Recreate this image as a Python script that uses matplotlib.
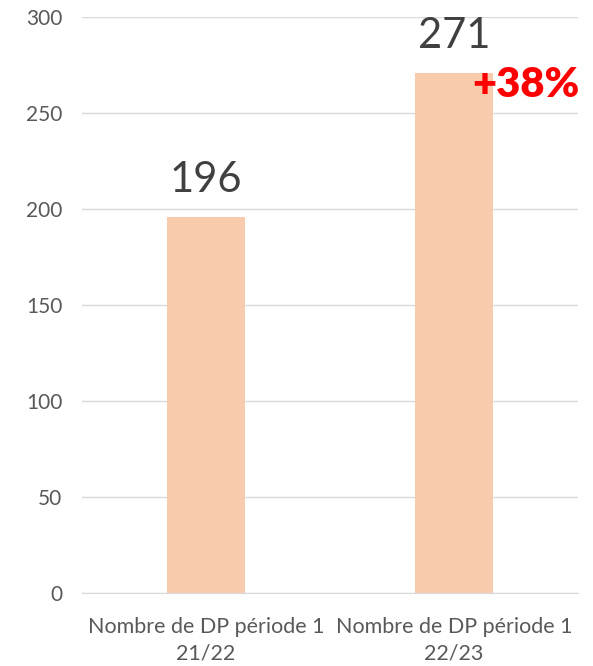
import matplotlib.pyplot as plt

categories = ["Nombre de DP période 1\n21/22", "Nombre de DP période 1\n22/23"]
values = [196, 271]
growth_label = "+38%"

plt.rcParams['font.family'] = ['Lato', 'DejaVu Sans']

fig = plt.figure(figsize=(5.93, 6.66), dpi=100)
ax = fig.add_axes([0.138, 0.1096, 0.837, 0.865])

x = list(range(len(categories)))
bars = ax.bar(x, values, width=0.315, color="#F8CBAD", zorder=2)

ax.set_xlim(-0.5, 1.5)
ax.set_ylim(0, 300)
ax.set_yticks(range(0, 301, 50))
ax.set_xticks(x)
ax.set_xticklabels(categories, fontsize=15.5, color="#595959", linespacing=1.45)
ax.tick_params(axis='y', labelsize=15, labelcolor="#595959", length=0, pad=14)
ax.tick_params(axis='x', length=0, pad=17)

ax.grid(axis='y', color="#D9D9D9", linewidth=1, zorder=0)
for s in ["top", "right", "left"]:
    ax.spines[s].set_visible(False)
ax.spines["bottom"].set_color("#D9D9D9")

# value labels above bars
for xi, v in zip(x, values):
    ax.annotate(str(v), xy=(xi, v), xytext=(0, 13), textcoords="offset points",
                ha="center", va="bottom", fontsize=30, color="#404040")

# growth label
ax.annotate(growth_label, xy=(x[1], values[1]), xytext=(52, -9), textcoords="offset points",
            ha="center", va="center", fontsize=30, color="#FF0000", fontweight="heavy")

fig.savefig("out.png", dpi=100)
